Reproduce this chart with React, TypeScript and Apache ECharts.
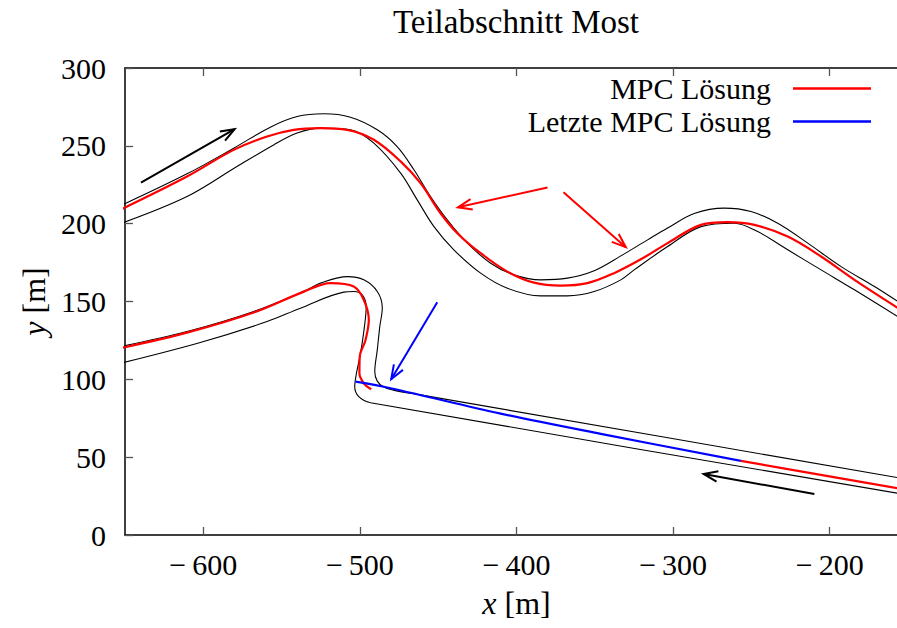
import React, { useEffect, useRef } from 'react';
import * as echarts from 'echarts';

const FONT = '"Liberation Serif", "Times New Roman", serif';

const titleText = 'Teilabschnitt Most';
const xTicks = [-600, -500, -400, -300, -200];
const legendNames = ['MPC Lösung', 'Letzte MPC Lösung'];

// Track boundaries, upper section (driving up-right)
const upperOuter = [
  [-653.1, 211.4], [-610.4, 232.0], [-580.6, 248.5], [-557.2, 262.0], [-540.1, 268.8],
  [-523.1, 270.6], [-506.0, 268.4], [-488.9, 260.3], [-476.2, 249.5], [-465.5, 234.6],
  [-454.9, 217.4], [-444.2, 202.4], [-431.4, 187.5], [-416.5, 174.6], [-401.6, 167.1],
  [-384.5, 163.9], [-367.5, 165.0], [-350.4, 169.8], [-333.4, 179.3], [-316.3, 189.6],
  [-303.5, 197.2], [-286.5, 206.5], [-267.3, 210.0], [-250.3, 207.8], [-233.2, 200.3],
  [-214.0, 187.5], [-192.7, 172.4], [-171.4, 159.6], [-156.3, 149.9], [-140, 139.5],
];
const upperInner = [
  [-653.1, 199.9], [-610.4, 217.4], [-578.5, 236.7], [-555.1, 250.6], [-540.1, 258.2],
  [-525.2, 261.4], [-506.0, 260.3], [-491.1, 251.7], [-474.0, 232.5], [-463.4, 215.3],
  [-452.7, 198.1], [-440.0, 183.2], [-422.9, 168.2], [-405.8, 158.5], [-384.5, 153.6],
  [-367.5, 153.6], [-350.4, 156.4], [-333.4, 163.9], [-324.9, 170.3], [-303.5, 185.3],
  [-282.2, 198.1], [-260.9, 200.3], [-246.0, 194.9], [-226.8, 183.2], [-205.5, 170.3],
  [-184.2, 157.5], [-156.3, 140.1], [-140, 129.9],
];
// Track boundaries, lower section (hairpin + straight)
const lowerOuter = [
  [-653.1, 121.0], [-610.4, 130.7], [-567.8, 143.6], [-533.7, 157.5], [-525.2, 161.8],
  [-508.1, 166.0], [-497.5, 163.9], [-488.9, 156.4], [-485.7, 146.0], [-487.3, 133.9],
  [-488.9, 118.9], [-490.5, 105.0], [-489.0, 99.0], [-485.0, 95.2], [-478.0, 92.9],
  [-461.3, 90.0], [-156.3, 36.8], [-140, 34.0],
];
const lowerInner = [
  [-653.0, 110.3], [-601.9, 123.7], [-559.3, 137.1], [-538.0, 145.7], [-510.3, 156.0],
  [-503.9, 156.4], [-498.5, 154.2], [-496.0, 146.7], [-497.1, 133.9], [-499.6, 116.8],
  [-502.4, 102.8], [-503.3, 95.3], [-500.7, 88.9], [-493.2, 85.0], [-156.3, 26.8],
  [-140, 24.0],
];

// MPC solution pieces
const mpcUpper = [
  [-653.1, 208.9], [-610.4, 230.3], [-580.6, 247.4], [-559.3, 256.0], [-542.3, 260.3],
  [-525.2, 261.4], [-508.1, 260.3], [-491.1, 253.9], [-474.0, 240.0], [-461.3, 226.0],
  [-448.5, 206.7], [-437.8, 193.9], [-422.9, 181.0], [-405.8, 169.2], [-388.8, 162.1],
  [-371.7, 160.2], [-354.7, 161.8], [-337.7, 168.2], [-320.6, 177.1], [-303.5, 187.5],
  [-282.2, 199.2], [-265.2, 201.0], [-248.1, 199.2], [-226.8, 191.7], [-205.5, 178.9],
  [-184.2, 163.9], [-156.3, 145.7], [-140, 135.1],
];
const mpcHairpin = [
  [-653.1, 120.0], [-610.4, 130.0], [-567.8, 142.9], [-536.1, 156.2], [-518.8, 161.8],
  [-503.9, 159.6], [-497.5, 151.0], [-494.3, 138.2], [-496.4, 125.3], [-500.1, 114.6],
  [-500.3, 103.9], [-497.5, 97.5], [-492.8, 93.6],
];
const mpcStraight = [[-256.7, 47.6], [-156.3, 30.0], [-140, 27.1]];
const lastMpc = [[-502.8, 98.5], [-480.4, 94.3], [-410.1, 78.0], [-346.2, 65.0], [-256.7, 47.6]];

// Arrows: [x1, y1, x2, y2]
const arrowData = [
  [-639.8, 226.4, -580.0, 260.7],
  [-380.2, 223.2, -437.4, 210.5],
  [-370.0, 220.2, -330.2, 184.9],
  [-450.6, 149.5, -480.0, 100.1],
  [-209.8, 26.3, -280.5, 39.2],
];
const arrowColors = ['#000000', '#ff0000', '#ff0000', '#0000ff', '#000000'];

const RED = '#ff0000';
const BLUE = '#0000ff';

const fmtX = (v: number) => (v < 0 ? '\u2212\u2009' + Math.abs(v) : String(v));

function boundary(data: number[][]) {
  return {
    type: 'line',
    data,
    smooth: 0.35,
    symbol: 'none',
    silent: true,
    lineStyle: { color: '#000', width: 1.1 },
    z: 2,
  };
}

function mpc(name: string, data: number[][], color: string, z: number) {
  return {
    type: 'line',
    name,
    data,
    smooth: 0.35,
    symbol: 'none',
    silent: true,
    color,
    lineStyle: { color, width: 2.2 },
    z,
  };
}

const CHART_W = 912;

export default function App() {
  const ref = useRef<HTMLDivElement>(null);
  useEffect(() => {
    const chart = echarts.init(ref.current!, null, { renderer: 'svg' });
    const axisLineStyle = { color: '#000', width: 1.5 };
    const tickStyle = { color: '#555', width: 1.3 };
    const legendCommon = {
      orient: 'horizontal',
      align: 'right',
      right: CHART_W - 871,
      padding: 0,
      itemWidth: 78,
      itemHeight: 2.5,
      icon: 'rect',
      selectedMode: false,
      textStyle: {
        fontSize: 30,
        lineHeight: 30,
        fontFamily: FONT,
        color: '#000',
        padding: [0, 17, 0, 0],
      },
    };
    const nameStyle = {
      fontSize: 32,
      fontFamily: FONT,
      color: '#000',
      rich: { i: { fontStyle: 'italic', fontSize: 32, fontFamily: FONT, color: '#000' } },
    };
    const option: any = {
      animation: false,
      backgroundColor: '#fff',
      grid: { left: 125, right: CHART_W - 908, top: 68, bottom: 93, containLabel: false },
      graphic: [
        {
          type: 'text',
          x: 516,
          y: 22,
          style: {
            text: titleText,
            align: 'center',
            verticalAlign: 'middle',
            font: '33px ' + FONT,
            fill: '#000',
          },
        },
      ],
      legend: [
        { ...legendCommon, top: 73.5, data: [legendNames[0]] },
        { ...legendCommon, top: 106.5, data: [legendNames[1]] },
      ],
      xAxis: [
        {
          type: 'value',
          min: -650,
          max: -150,
          position: 'bottom',
          axisLine: { show: true, onZero: false, lineStyle: axisLineStyle },
          axisTick: { show: true, inside: true, length: 8, customValues: xTicks, lineStyle: tickStyle },
          axisLabel: {
            customValues: xTicks,
            formatter: fmtX,
            fontSize: 30,
            fontFamily: FONT,
            color: '#000',
            margin: 14,
          },
          splitLine: { show: false },
          name: '{i|x} [m]',
          nameLocation: 'middle',
          nameGap: 52,
          nameTextStyle: nameStyle,
        },
        {
          type: 'value',
          min: -650,
          max: -150,
          position: 'top',
          axisLine: { show: true, onZero: false, lineStyle: axisLineStyle },
          axisTick: { show: true, inside: true, length: 8, customValues: xTicks, lineStyle: tickStyle },
          axisLabel: { show: false },
          splitLine: { show: false },
        },
      ],
      yAxis: [
        {
          type: 'value',
          min: 0,
          max: 300,
          interval: 50,
          position: 'left',
          axisLine: { show: true, onZero: false, lineStyle: axisLineStyle },
          axisTick: { show: true, inside: true, length: 8, lineStyle: tickStyle },
          axisLabel: { fontSize: 30, fontFamily: FONT, color: '#000', margin: 19 },
          splitLine: { show: false },
          name: '{i|y} [m]',
          nameLocation: 'middle',
          nameGap: 75,
          nameRotate: 90,
          nameTextStyle: nameStyle,
        },
      ],
      series: [
        boundary(upperOuter),
        boundary(upperInner),
        boundary(lowerOuter),
        boundary(lowerInner),
        mpc(legendNames[0], mpcUpper, RED, 3),
        mpc(legendNames[0], mpcHairpin, RED, 3),
        mpc(legendNames[0], mpcStraight, RED, 3),
        mpc(legendNames[1], lastMpc, BLUE, 4),
        {
          type: 'custom',
          silent: true,
          clip: false,
          z: 5,
          data: arrowData,
          encode: { x: [0, 2], y: [1, 3] },
          renderItem: (params: any, api: any) => {
            const p1 = api.coord([api.value(0), api.value(1)]);
            const p2 = api.coord([api.value(2), api.value(3)]);
            const color = arrowColors[params.dataIndex];
            const ang = Math.atan2(p2[1] - p1[1], p2[0] - p1[0]);
            const L = 15;
            const a = 0.36;
            const h1 = [p2[0] - L * Math.cos(ang - a), p2[1] - L * Math.sin(ang - a)];
            const h2 = [p2[0] - L * Math.cos(ang + a), p2[1] - L * Math.sin(ang + a)];
            return {
              type: 'group',
              children: [
                {
                  type: 'line',
                  shape: { x1: p1[0], y1: p1[1], x2: p2[0], y2: p2[1] },
                  style: { stroke: color, lineWidth: 2 },
                },
                {
                  type: 'polyline',
                  shape: { points: [h1, p2, h2] },
                  style: { stroke: color, lineWidth: 2, fill: 'none' },
                },
              ],
            };
          },
        },
      ],
    };
    chart.setOption(option);
    return () => chart.dispose();
  }, []);
  return (
    <div
      style={{
        position: 'absolute',
        left: 0,
        top: 0,
        width: 897,
        height: 628,
        overflow: 'hidden',
        background: '#fff',
      }}
    >
      <div ref={ref} style={{ width: CHART_W, height: 628 }} />
    </div>
  );
}
